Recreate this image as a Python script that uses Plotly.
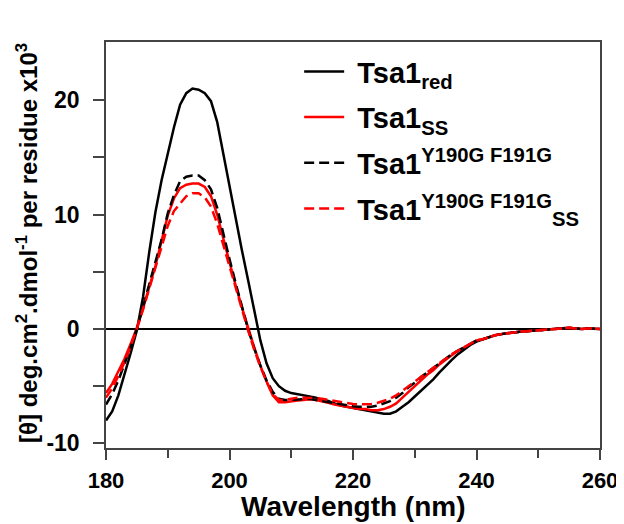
import plotly.graph_objects as go

wavelength = list(range(180, 261))

tail = [-0.9, -0.7, -0.55, -0.45, -0.35, -0.3, -0.25, -0.2, -0.15, -0.1,
        -0.1, -0.05, 0.0, 0.05, 0.1, 0.05, 0.0, 0.05, 0.0, 0.0]

tsa1_red = [-8.0, -7.2, -5.8, -4.0, -2.1, -0.1, 2.8, 6.7, 10.2, 13.0,
            15.4, 17.6, 19.6, 20.6, 21.0, 20.9, 20.6, 19.9, 18.1, 15.3,
            12.2, 9.6, 6.9, 4.3, 1.6, -1.0, -3.0, -4.3, -5.0, -5.4,
            -5.6, -5.7, -5.8, -5.9, -6.0, -6.2, -6.3, -6.5, -6.7, -6.8,
            -6.9, -7.0, -7.1, -7.2, -7.3, -7.4, -7.4, -7.2, -6.8, -6.4,
            -5.9, -5.4, -4.9, -4.4, -3.8, -3.2, -2.7, -2.2, -1.8, -1.4,
            -1.1] + tail

tsa1_ss = [-5.6, -4.8, -3.7, -2.6, -1.3, 0.1, 1.8, 3.6, 5.5, 7.7,
           9.9, 11.4, 12.3, 12.6, 12.7, 12.7, 12.4, 11.6, 10.0, 7.9,
           5.8, 3.8, 1.9, 0.1, -1.6, -3.2, -4.6, -5.8, -6.4, -6.4,
           -6.3, -6.25, -6.2, -6.15, -6.2, -6.3, -6.45, -6.6, -6.7, -6.8,
           -6.9, -7.0, -7.0, -7.1, -7.1, -7.0, -6.8, -6.5, -6.0, -5.5,
           -5.0, -4.5, -4.0, -3.6, -3.1, -2.7, -2.3, -1.9, -1.6, -1.3,
           -1.0] + tail

mut_red = [-6.6, -5.7, -4.5, -3.1, -1.6, 0.0, 1.9, 3.9, 5.8, 7.8,
           10.1, 11.7, 12.9, 13.3, 13.4, 13.4, 13.0, 12.2, 10.6, 8.3,
           6.1, 4.0, 2.0, 0.0, -1.7, -3.2, -4.5, -5.5, -6.1, -6.2,
           -6.2, -6.15, -6.1, -6.1, -6.2, -6.3, -6.4, -6.5, -6.6, -6.7,
           -6.75, -6.8, -6.8, -6.8, -6.7, -6.5, -6.3, -6.0, -5.6, -5.1,
           -4.7, -4.2, -3.8, -3.4, -3.0, -2.6, -2.2, -1.9, -1.6, -1.3,
           -1.0] + tail

mut_ss = [-6.0, -5.2, -4.1, -2.9, -1.5, 0.0, 1.7, 3.5, 5.3, 7.2,
          9.0, 10.3, 11.0, 11.6, 11.85, 11.85, 11.5, 10.7, 9.2, 7.3,
          5.4, 3.5, 1.7, -0.1, -1.8, -3.3, -4.6, -5.7, -6.2, -6.2,
          -6.1, -6.0, -6.0, -6.0, -6.05, -6.1, -6.2, -6.3, -6.4, -6.5,
          -6.55, -6.6, -6.6, -6.55, -6.45, -6.3, -6.1, -5.8, -5.4, -5.0,
          -4.6, -4.2, -3.8, -3.4, -3.0, -2.6, -2.2, -1.9, -1.6, -1.3,
          -1.0] + tail

series_names = ["Tsa1<sub>red</sub>", "Tsa1<sub>SS</sub>",
                "Tsa1<sup>Y190G F191G</sup>",
                "Tsa1<sup>Y190G F191G</sup><sub>SS</sub>"]
series_values = [tsa1_red, tsa1_ss, mut_red, mut_ss]
series_colors = ["black", "#ff0000", "black", "#ff0000"]
series_dash = ["solid", "solid", "10px,5px", "10px,5px"]

x_ticks = [180, 200, 220, 240, 260]
x_ticktext = ["180", "200", "220", "240", "260"]
y_ticks = [-10, 0, 10, 20]
y_ticktext = ["-10", "0", "10", "20"]

x_title = "Wavelength (nm)"
y_title = "[θ] deg.cm<sup>2</sup>.dmol<sup>-1</sup> per residue x10<sup>3</sup>"

FONT = "Liberation Sans, Arial, sans-serif"

fig = go.Figure()
for i, (name, vals, col, dash) in enumerate(zip(series_names, series_values, series_colors, series_dash)):
    fig.add_trace(go.Scatter(x=wavelength, y=vals, mode="lines",
                             name="<b>\u00a0" + name + "</b>", legendgroup="g%d" % i,
                             line=dict(color=col, width=2.5, dash=dash)))

# page body has an 8px default margin, so the figure is 8px smaller than the window
fig.update_layout(
    width=616, height=516,
    margin=dict(l=98, r=24, t=34, b=76, autoexpand=False),
    plot_bgcolor="white", paper_bgcolor="white",
    font=dict(family=FONT, color="black"),
    showlegend=True,
    legend=dict(x=0.391, y=0.99, xanchor="left", yanchor="top",
                font=dict(size=29, family=FONT, color="black"),
                bgcolor="rgba(0,0,0,0)", tracegroupgap=5, itemwidth=40),
    annotations=[
        dict(text="<b>" + x_title + "</b>", xref="paper", yref="paper",
             x=0.5, y=-0.102, xanchor="center", yanchor="top", showarrow=False,
             font=dict(size=28, family=FONT, color="black")),
        dict(text="<b>" + y_title + "</b>", xref="paper", yref="paper",
             x=-0.16, y=0.505, xanchor="center", yanchor="middle", showarrow=False,
             textangle=-90, font=dict(size=24, family=FONT, color="black")),
    ],
)
fig.update_xaxes(
    range=[180, 260], tickvals=x_ticks, ticktext=x_ticktext, ticks="outside", ticklen=10, tickwidth=1.5,
    tickcolor="#444", showline=True, linecolor="#444", linewidth=1.5, mirror=True,
    showgrid=False, zeroline=False, automargin=False, ticklabelstandoff=2,
    tickfont=dict(size=22, family=FONT, color="black", weight="bold"),
    minor=dict(tickvals=[190, 210, 230, 250], ticks="outside", ticklen=8, tickwidth=1.5, tickcolor="#444"),
)
fig.update_yaxes(
    range=[-10.4, 25.07], tickvals=y_ticks, ticktext=y_ticktext, ticks="outside", ticklen=11, tickwidth=1.5,
    tickcolor="#444", showline=True, linecolor="#444", linewidth=1.5, mirror=True,
    showgrid=False, zeroline=True, zerolinecolor="black", zerolinewidth=1.5, automargin=False,
    ticklabelstandoff=9,
    tickfont=dict(size=23, family=FONT, color="black", weight="bold"),
    minor=dict(tickvals=[-5, 5, 15], ticks="outside", ticklen=11, tickwidth=1.5, tickcolor="#444"),
)

fig.write_html("out.html")
